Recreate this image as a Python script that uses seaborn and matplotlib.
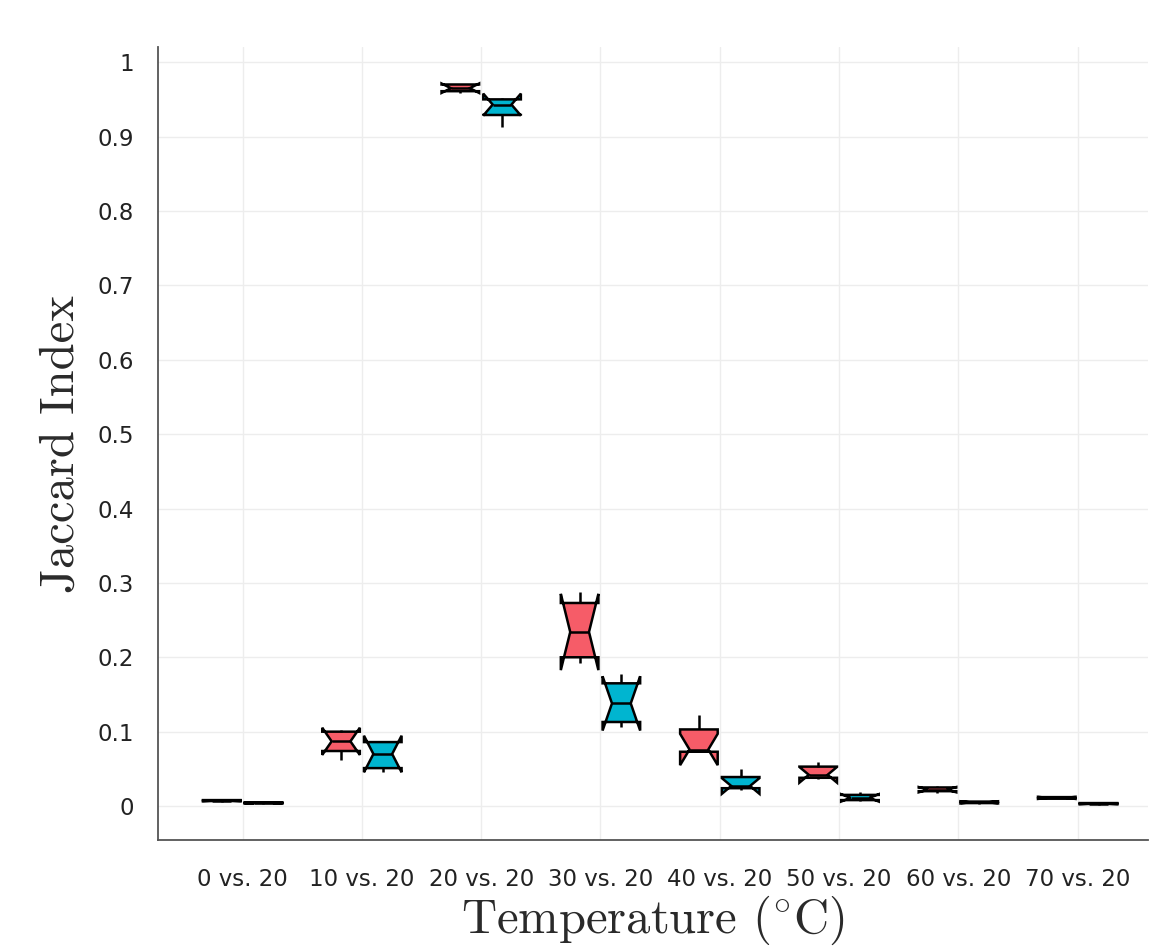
import numpy as np
import pandas as pd
import matplotlib
matplotlib.use("Agg")
import matplotlib.pyplot as plt
import seaborn as sns

# ---- data (five-number samples, per box) ----
comparisons = ["0 vs. 20", "10 vs. 20", "20 vs. 20", "30 vs. 20",
               "40 vs. 20", "50 vs. 20", "60 vs. 20", "70 vs. 20"]
series_names = ["Series A", "Series B"]

series_a = [
    [0.006, 0.007, 0.007, 0.008, 0.008],
    [0.062, 0.074, 0.087, 0.100, 0.102],
    [0.958, 0.961, 0.965, 0.970, 0.971],
    [0.192, 0.200, 0.234, 0.273, 0.288],
    [0.072, 0.073, 0.076, 0.103, 0.122],
    [0.037, 0.038, 0.042, 0.053, 0.059],
    [0.018, 0.020, 0.022, 0.025, 0.027],
    [0.009, 0.010, 0.011, 0.012, 0.013],
]
series_b = [
    [0.003, 0.004, 0.004, 0.005, 0.005],
    [0.046, 0.051, 0.070, 0.086, 0.088],
    [0.913, 0.929, 0.943, 0.950, 0.952],
    [0.106, 0.113, 0.138, 0.165, 0.178],
    [0.022, 0.024, 0.027, 0.039, 0.050],
    [0.007, 0.008, 0.011, 0.015, 0.019],
    [0.003, 0.004, 0.005, 0.006, 0.007],
    [0.002, 0.003, 0.003, 0.004, 0.004],
]
y_ticks = [0, 0.1, 0.2, 0.3, 0.4, 0.5, 0.6, 0.7, 0.8, 0.9, 1.0]
y_tick_labels = ["0", "0.1", "0.2", "0.3", "0.4", "0.5", "0.6", "0.7", "0.8", "0.9", "1"]

colors = ["#F65C68", "#00B5D0"]

rows = []
for name, ser in zip(series_names, [series_a, series_b]):
    for comp, vals in zip(comparisons, ser):
        for v in vals:
            rows.append({"comparison": comp, "series": name, "value": v})
df = pd.DataFrame(rows)

sns.set_theme(style="white")
plt.rcParams["font.family"] = ["DejaVu Sans"]
plt.rcParams["mathtext.fontset"] = "cm"

fig = plt.figure(figsize=(11.51, 9.46), dpi=100)
ax = fig.add_axes([0.137, 0.112, 0.860, 0.838])

sns.boxplot(data=df, x="comparison", y="value", hue="series",
            order=comparisons, hue_order=series_names, palette=colors,
            notch=True, width=0.7, gap=0.1, showcaps=False,
            whis=(0, 100), linecolor="black", linewidth=1.8,
            saturation=1, legend=False, ax=ax)

ax.set_xlim(-0.712, 7.586)
ax.set_ylim(-0.0457, 1.020)
ax.set_yticks(y_ticks)
ax.set_yticklabels(y_tick_labels)

ax.grid(True, color="#EDEDED", linewidth=1.0)
ax.set_axisbelow(True)
for s in ["top", "right"]:
    ax.spines[s].set_visible(False)
for s in ["left", "bottom"]:
    ax.spines[s].set_color("#555555")
    ax.spines[s].set_linewidth(1.3)

ax.tick_params(axis="x", length=7, width=1.2, color="#555555", pad=13,
               labelsize=16.5, labelcolor="#222222")
ax.tick_params(axis="y", length=0, pad=17, labelsize=16.5, labelcolor="#222222")

ax.set_xlabel(r"Temperature ($^{\circ}$C)", family="cmr10", fontsize=35,
              color="#2a2a2a", labelpad=2)
ax.set_ylabel("Jaccard Index", family="cmr10", fontsize=35,
              color="#2a2a2a", labelpad=10)

fig.savefig("out.png", dpi=100)
